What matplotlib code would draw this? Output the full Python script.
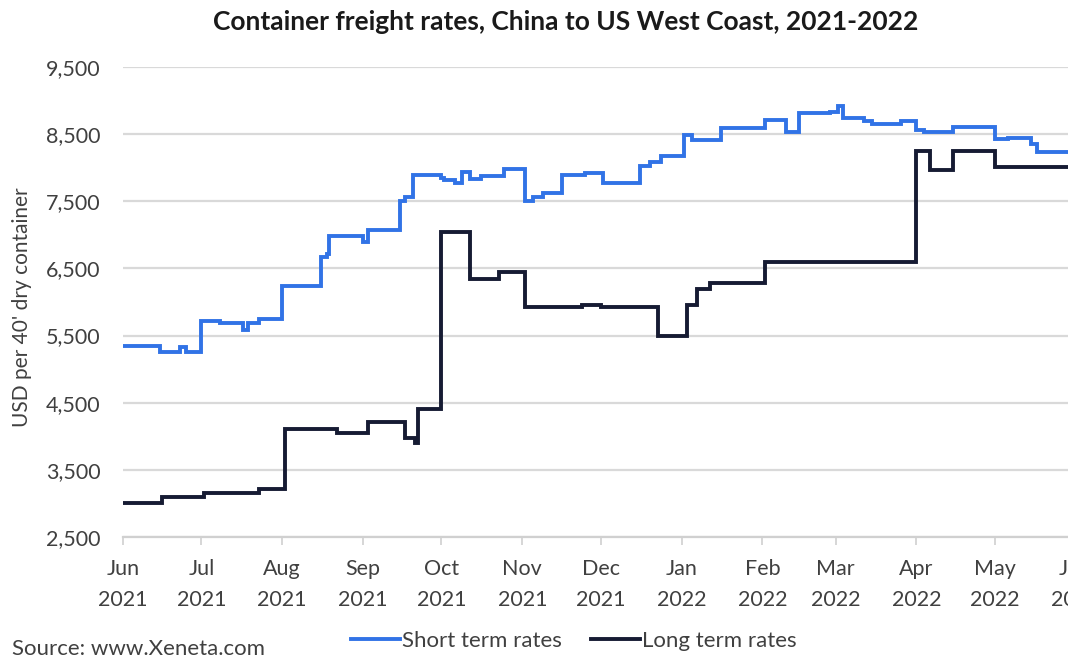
import matplotlib
matplotlib.use("Agg")
import matplotlib.pyplot as plt
import matplotlib.dates as mdates
from matplotlib.lines import Line2D
import pandas as pd

# short term rates (step changes), USD per 40' container
short_dates = ["2021-06-01", "2021-06-15", "2021-06-23", "2021-06-25", "2021-07-01",
               "2021-07-08", "2021-07-17", "2021-07-19", "2021-07-23", "2021-08-01",
               "2021-08-16", "2021-08-18", "2021-08-19", "2021-09-01", "2021-09-03",
               "2021-09-15", "2021-09-17", "2021-09-20", "2021-10-01", "2021-10-02",
               "2021-10-06", "2021-10-09", "2021-10-12", "2021-10-16", "2021-10-25",
               "2021-11-02", "2021-11-05", "2021-11-09", "2021-11-16", "2021-11-25",
               "2021-12-02", "2021-12-05", "2021-12-16", "2021-12-20", "2021-12-24",
               "2022-01-02", "2022-01-05", "2022-01-16", "2022-02-02", "2022-02-10",
               "2022-02-15", "2022-02-27", "2022-03-02", "2022-03-04", "2022-03-12",
               "2022-03-15", "2022-03-26", "2022-04-01", "2022-04-04", "2022-04-15",
               "2022-05-01", "2022-05-06", "2022-05-15", "2022-05-17", "2022-06-10"]
short_rates = [5350, 5260, 5330, 5260, 5720,
               5690, 5590, 5690, 5740, 6240,
               6670, 6720, 6980, 6900, 7080,
               7500, 7560, 7890, 7840, 7810,
               7780, 7930, 7830, 7870, 7980,
               7500, 7560, 7630, 7890, 7920,
               7780, 7770, 8020, 8080, 8170,
               8490, 8420, 8590, 8710, 8530,
               8810, 8830, 8920, 8740, 8700,
               8650, 8700, 8560, 8530, 8600,
               8430, 8450, 8350, 8230, 8250]

# long term rates
long_dates = ["2021-06-01", "2021-06-16", "2021-07-02", "2021-07-23", "2021-08-02",
              "2021-08-22", "2021-09-03", "2021-09-17", "2021-09-21", "2021-09-22",
              "2021-10-01", "2021-10-12", "2021-10-23", "2021-11-02", "2021-11-24",
              "2021-12-01", "2021-12-23", "2022-01-03", "2022-01-07", "2022-01-12",
              "2022-02-02", "2022-04-01", "2022-04-06", "2022-04-15", "2022-05-01",
              "2022-06-10"]
long_rates = [3010, 3100, 3160, 3220, 4110,
              4050, 4220, 3980, 3900, 4400,
              7050, 6350, 6440, 5930, 5950,
              5930, 5500, 5950, 6190, 6280,
              6590, 8250, 7960, 8250, 8010,
              8010]

y_ticks = [2500, 3500, 4500, 5500, 6500, 7500, 8500, 9500]

plt.rcParams['font.family'] = ['Lato', 'DejaVu Sans']

fig = plt.figure(figsize=(10.68, 6.61), dpi=100)
# plot area runs past the right edge, like the cropped original
ax = fig.add_axes([0.1152, 0.1876, 0.914, 0.711])

sd = pd.to_datetime(short_dates)
ld = pd.to_datetime(long_dates)
ax.plot(sd, short_rates, drawstyle="steps-post", color="#3173E6", lw=2.8,
        solid_joinstyle="miter", zorder=3)
ax.plot(ld, long_rates, drawstyle="steps-post", color="#161B33", lw=2.8,
        solid_joinstyle="miter", zorder=3)

ax.set_xlim(pd.Timestamp("2021-06-01"), pd.Timestamp("2022-06-10"))
ax.set_ylim(2500, 9500)
ax.set_yticks(y_ticks)
ax.set_yticklabels([f"{v:,}" for v in y_ticks])
ax.xaxis.set_major_locator(mdates.MonthLocator())
ax.xaxis.set_major_formatter(mdates.DateFormatter("%b\n%Y"))

ax.grid(axis="y", color="#d9d9d9", lw=1.6)
ax.set_axisbelow(True)
for s in ["top", "right", "left"]:
    ax.spines[s].set_visible(False)
ax.spines["bottom"].set_color("#d0d0d0")
ax.spines["bottom"].set_linewidth(1.6)
ax.tick_params(axis="y", length=0, pad=16, labelsize=15.5, labelcolor="#404040")
ax.tick_params(axis="x", length=6, width=1.2, color="#d0d0d0", pad=10,
               labelsize=15.5, labelcolor="#404040")
for lab in ax.get_xticklabels():
    lab.set_linespacing(1.7)

fig.text(0.0206, 0.535, "USD per 40' dry container", rotation=90, ha="center",
         va="center", fontsize=15, color="#404040")

fig.text(0.53, 0.967, "Container freight rates, China to US West Coast, 2021-2022",
         ha="center", va="center", fontsize=19, fontweight="bold", color="#1a1a1a")
fig.text(0.011, 0.018, "Source: www.Xeneta.com", ha="left", va="center",
         fontsize=16, color="#404040")

handles = [Line2D([], [], color="#3173E6", lw=2.8),
           Line2D([], [], color="#161B33", lw=2.8)]
fig.legend(handles, ["Short term rates", "Long term rates"], loc="center left",
           bbox_to_anchor=(0.31, 0.03), ncol=2, frameon=False, fontsize=16,
           handlelength=2.2, handletextpad=0.1, columnspacing=1.3,
           labelcolor="#404040")

fig.savefig("out.png", dpi=100)
